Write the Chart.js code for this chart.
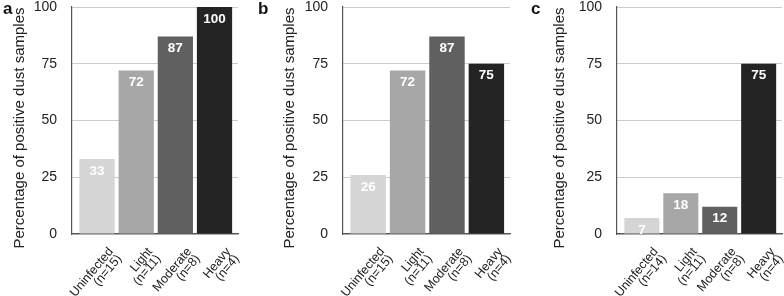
<!DOCTYPE html>
<html>
<head>
<meta charset="utf-8">
<script src="https://cdn.jsdelivr.net/npm/chart.js@4.4.1/dist/chart.umd.min.js"></script>
<style>
  html, body { margin: 0; padding: 0; background: #fff; }
  #wrap { position: relative; width: 784px; height: 296px; overflow: hidden; }
  canvas { position: absolute; top: 0; }
</style>
</head>
<body>
<div id="wrap">
  <canvas id="chartA" width="255" height="296" style="left:0px;width:255px;height:296px"></canvas>
  <canvas id="chartB" width="273" height="296" style="left:255px;width:273px;height:296px"></canvas>
  <canvas id="chartC" width="256" height="296" style="left:528px;width:256px;height:296px"></canvas>
</div>
<script>
// data
const labelsAB = [["Uninfected", "(n=15)"], ["Light", "(n=11)"], ["Moderate", "(n=8)"], ["Heavy", "(n=4)"]];
const labelsC = [["Uninfected", "(n=14)"], ["Light", "(n=11)"], ["Moderate", "(n=8)"], ["Heavy", "(n=4)"]];
const valuesA = [33, 72, 87, 100];
const valuesB = [26, 72, 87, 75];
const valuesC = [7, 18, 12, 75];
const yTickValues = [0, 25, 50, 75, 100];
const barColors = ['#d5d5d5', '#a7a7a7', '#606060', '#242424'];
const yTitle = 'Percentage of positive dust samples';

const FONT = '"Liberation Sans", Arial, Helvetica, sans-serif';

// value labels inside bars, panel letter, y title
const decor = {
  id: 'decor',
  afterDatasetsDraw(chart) {
    const ctx = chart.ctx;
    const meta = chart.getDatasetMeta(0);
    const data = chart.data.datasets[0].data;
    ctx.save();
    ctx.fillStyle = '#ffffff';
    ctx.font = 'bold 13.5px ' + FONT;
    ctx.textAlign = 'center';
    ctx.textBaseline = 'middle';
    meta.data.forEach((bar, i) => {
      ctx.fillText(String(data[i].y), bar.x, bar.y + 12);
    });
    ctx.restore();
  },
  afterDraw(chart, args, opts) {
    const ctx = chart.ctx;
    ctx.save();
    ctx.fillStyle = '#111';
    ctx.font = 'bold 17px ' + FONT;
    ctx.textAlign = 'left';
    ctx.textBaseline = 'alphabetic';
    ctx.fillText(opts.letter, opts.letterX, 14);

    ctx.font = '15px ' + FONT;
    ctx.fillStyle = '#222';
    ctx.translate(opts.titleX, 128);
    ctx.rotate(-Math.PI / 2);
    ctx.textAlign = 'center';
    ctx.textBaseline = 'middle';
    ctx.fillText(yTitle, 0, 0);
    ctx.restore();
  }
};

function makePanel(id, labels, values, letter, yWidth, padRight, titleX) {
  const points = values.map((v, i) => ({ x: i, y: v }));
  return new Chart(document.getElementById(id), {
    type: 'bar',
    data: {
      datasets: [{
        data: points,
        backgroundColor: barColors,
        borderWidth: 0,
        categoryPercentage: 1,
        barPercentage: 0.9
      }]
    },
    options: {
      responsive: false,
      animation: false,
      layout: { padding: { top: 0, right: padRight, left: 0, bottom: 0 } },
      plugins: {
        legend: { display: false },
        tooltip: { enabled: false },
        decor: { letter: letter, letterX: 3, titleX: titleX }
      },
      scales: {
        x: {
          type: 'linear',
          offset: false,
          min: -0.64,
          max: 3.6,
          grid: { display: false },
          border: { display: true, color: '#555', width: 1.2 },
          afterBuildTicks(scale) {
            scale.ticks = labels.map((_, i) => ({ value: i }));
          },
          afterFit(scale) { scale.height = 62; },
          ticks: {
            autoSkip: false,
            minRotation: 50,
            maxRotation: 50,
            padding: 4,
            labelOffset: 14,
            color: '#222',
            font: { family: FONT, size: 12.5, lineHeight: 0.88 },
            callback: (v) => labels[v]
          }
        },
        y: {
          min: 0,
          max: 100,
          afterBuildTicks(scale) {
            scale.ticks = yTickValues.map(v => ({ value: v }));
          },
          afterFit(scale) { scale.width = yWidth; },
          // invisible tick marks keep the labels away from the axis
          grid: { color: '#cccccc', lineWidth: 1, drawTicks: true, tickLength: 15, tickColor: 'rgba(0,0,0,0)' },
          border: { display: true, color: '#555', width: 1.2 },
          ticks: {
            padding: 0,
            color: '#222',
            font: { family: FONT, size: 14, lineHeight: 1 }
          }
        }
      }
    },
    plugins: [decor]
  });
}

makePanel('chartA', labelsAB, valuesA, 'a', 72, 17, 20);
makePanel('chartB', labelsAB, valuesB, 'b', 88, 18, 35);
makePanel('chartC', labelsC, valuesC, 'c', 89, 2, 32);
</script>
</body>
</html>
